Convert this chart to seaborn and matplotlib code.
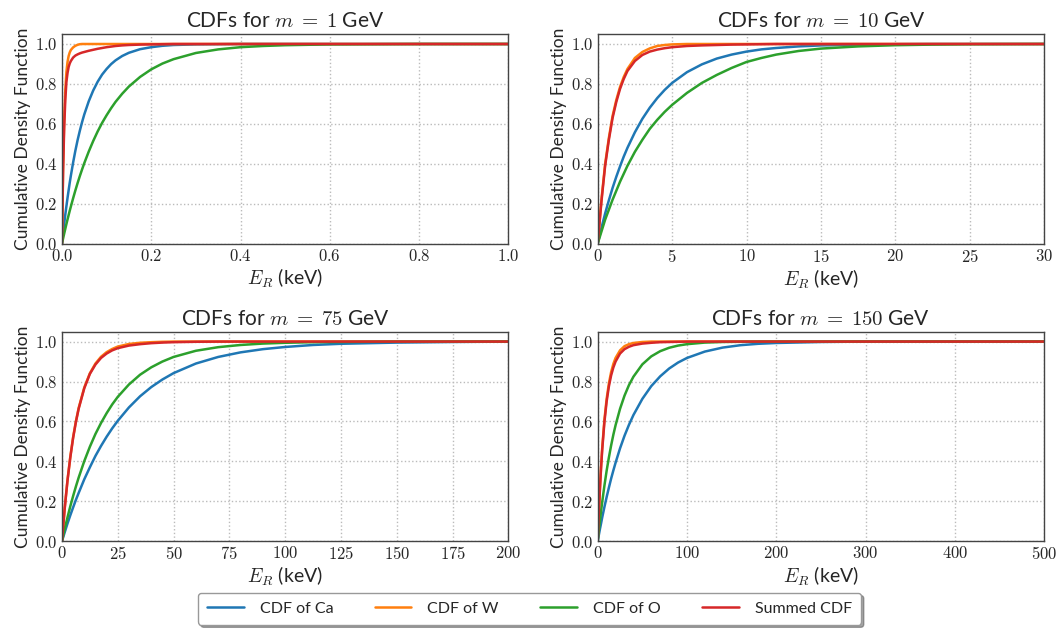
import numpy as np
import pandas as pd
import seaborn as sns
import matplotlib
matplotlib.use("Agg")
import matplotlib.pyplot as plt
from matplotlib.ticker import FuncFormatter

# ---------------- data ----------------
series_names = ["CDF of Ca", "CDF of W", "CDF of O", "Summed CDF"]
masses = ["1", "10", "75", "150"]

# m = 1 GeV
x_m1 = [0, 0.0025, 0.005, 0.0075, 0.01, 0.0125, 0.015, 0.0175, 0.02, 0.025, 0.03, 0.035,
        0.04, 0.045, 0.05, 0.06, 0.07, 0.08, 0.09, 0.1, 0.11, 0.12, 0.135, 0.15, 0.175,
        0.2, 0.225, 0.25, 0.3, 0.35, 0.4, 0.45, 0.5, 0.6, 0.7, 0.8, 1.0]
ca_m1 = [0, 0.051, 0.099, 0.145, 0.188, 0.229, 0.268, 0.306, 0.341, 0.406, 0.465, 0.518,
         0.565, 0.608, 0.647, 0.713, 0.767, 0.811, 0.847, 0.875, 0.899, 0.918, 0.940, 0.956,
         0.974, 0.984, 0.991, 0.995, 0.998, 0.999, 1.0, 1.0, 1.0, 1.0, 1.0, 1.0, 1.0]
w_m1 = [0, 0.38, 0.62, 0.77, 0.86, 0.91, 0.94, 0.958, 0.97, 0.983, 0.991, 0.996,
        0.999, 1.0, 1.0, 1.0, 1.0, 1.0, 1.0, 1.0, 1.0, 1.0, 1.0, 1.0, 1.0,
        1.0, 1.0, 1.0, 1.0, 1.0, 1.0, 1.0, 1.0, 1.0, 1.0, 1.0, 1.0]
o_m1 = [0, 0.025, 0.050, 0.074, 0.098, 0.121, 0.143, 0.165, 0.186, 0.227, 0.266, 0.303,
        0.338, 0.371, 0.403, 0.461, 0.514, 0.562, 0.605, 0.643, 0.678, 0.710, 0.751, 0.787,
        0.835, 0.873, 0.902, 0.924, 0.955, 0.973, 0.984, 0.990, 0.994, 0.998, 0.999, 1.0, 1.0]
sum_m1 = [0, 0.36, 0.58, 0.72, 0.81, 0.855, 0.885, 0.903, 0.915, 0.932, 0.942, 0.948,
          0.953, 0.957, 0.960, 0.966, 0.971, 0.976, 0.980, 0.984, 0.987, 0.990, 0.993, 0.995,
          0.997, 0.998, 0.999, 1.0, 1.0, 1.0, 1.0, 1.0, 1.0, 1.0, 1.0, 1.0, 1.0]

# m = 10 GeV
x_m10 = [0, 0.25, 0.5, 0.75, 1, 1.25, 1.5, 1.75, 2, 2.5, 3, 3.5, 4, 4.5, 5, 6, 7, 8, 9,
         10, 11, 12, 13.5, 15, 17.5, 20, 22.5, 25, 30]
ca_m10 = [0, 0.078, 0.151, 0.217, 0.279, 0.335, 0.387, 0.436, 0.480, 0.558, 0.625, 0.681,
          0.729, 0.770, 0.805, 0.859, 0.898, 0.927, 0.947, 0.962, 0.973, 0.980, 0.988,
          0.993, 0.997, 0.999, 1.0, 1.0, 1.0]
w_m10 = [0, 0.22, 0.40, 0.53, 0.64, 0.72, 0.785, 0.835, 0.875, 0.93, 0.96, 0.978,
         0.99, 0.995, 0.998, 1.0, 1.0, 1.0, 1.0, 1.0, 1.0, 1.0, 1.0, 1.0, 1.0, 1.0,
         1.0, 1.0, 1.0]
o_m10 = [0, 0.06, 0.12, 0.17, 0.22, 0.265, 0.31, 0.35, 0.39, 0.46, 0.52, 0.575, 0.62,
         0.66, 0.695, 0.755, 0.805, 0.845, 0.88, 0.91, 0.93, 0.947, 0.965, 0.977, 0.988,
         0.994, 0.997, 0.999, 1.0]
sum_m10 = [0, 0.21, 0.39, 0.52, 0.63, 0.71, 0.775, 0.825, 0.865, 0.915, 0.945, 0.962,
           0.972, 0.979, 0.984, 0.990, 0.993, 0.995, 0.997, 0.998, 0.999, 1.0, 1.0, 1.0,
           1.0, 1.0, 1.0, 1.0, 1.0]

# m = 75 GeV
x_m75 = [0, 1.25, 2.5, 3.75, 5, 6.25, 7.5, 10, 12.5, 15, 17.5, 20, 22.5, 25, 30, 35, 40,
         45, 50, 60, 70, 80, 90, 100, 112.5, 125, 150, 175, 200]
ca_m75 = [0, 0.045, 0.089, 0.13, 0.169, 0.207, 0.242, 0.31, 0.37, 0.427, 0.477, 0.523,
          0.565, 0.603, 0.67, 0.726, 0.772, 0.81, 0.842, 0.89, 0.923, 0.946, 0.962, 0.973,
          0.983, 0.989, 0.995, 0.998, 1.0]
w_m75 = [0, 0.168, 0.308, 0.424, 0.521, 0.601, 0.668, 0.770, 0.841, 0.890, 0.924, 0.947,
         0.963, 0.975, 0.988, 0.994, 0.997, 0.999, 1.0, 1.0, 1.0, 1.0, 1.0, 1.0, 1.0,
         1.0, 1.0, 1.0, 1.0]
o_m75 = [0, 0.062, 0.120, 0.175, 0.226, 0.274, 0.319, 0.401, 0.473, 0.537, 0.592, 0.641,
         0.685, 0.723, 0.785, 0.834, 0.871, 0.900, 0.923, 0.954, 0.972, 0.983, 0.990,
         0.994, 0.997, 0.998, 1.0, 1.0, 1.0]
sum_m75 = [0, 0.166, 0.305, 0.420, 0.517, 0.597, 0.664, 0.766, 0.838, 0.885, 0.918, 0.940,
           0.956, 0.967, 0.980, 0.987, 0.992, 0.995, 0.997, 0.999, 1.0, 1.0, 1.0, 1.0,
           1.0, 1.0, 1.0, 1.0, 1.0]

# m = 150 GeV
x_m150 = [0, 1.25, 2.5, 3.75, 5, 7.5, 10, 12.5, 15, 17.5, 20, 25, 30, 35, 40, 50, 60, 70,
          80, 90, 100, 120, 140, 160, 180, 200, 250, 300, 400, 500]
ca_m150 = [0, 0.031, 0.061, 0.089, 0.118, 0.171, 0.221, 0.268, 0.313, 0.354, 0.393, 0.465,
           0.528, 0.583, 0.632, 0.713, 0.777, 0.826, 0.865, 0.895, 0.918, 0.950, 0.970,
           0.982, 0.989, 0.993, 0.998, 1.0, 1.0, 1.0]
w_m150 = [0, 0.145, 0.268, 0.374, 0.465, 0.608, 0.713, 0.790, 0.847, 0.888, 0.918, 0.956,
          0.977, 0.987, 0.993, 0.998, 1.0, 1.0, 1.0, 1.0, 1.0, 1.0, 1.0, 1.0, 1.0, 1.0,
          1.0, 1.0, 1.0, 1.0]
o_m150 = [0, 0.053, 0.103, 0.150, 0.195, 0.278, 0.353, 0.419, 0.479, 0.533, 0.581, 0.663,
          0.729, 0.782, 0.824, 0.886, 0.926, 0.952, 0.969, 0.980, 0.987, 0.995, 0.998,
          0.999, 1.0, 1.0, 1.0, 1.0, 1.0, 1.0]
sum_m150 = [0, 0.14, 0.262, 0.366, 0.455, 0.596, 0.70, 0.775, 0.83, 0.87, 0.90, 0.94,
            0.962, 0.974, 0.982, 0.99, 0.994, 0.997, 0.998, 0.999, 1.0, 1.0, 1.0, 1.0,
            1.0, 1.0, 1.0, 1.0, 1.0, 1.0]

x_limits = [1.0, 30, 200, 500]
x_ticks = [
    [0.0, 0.2, 0.4, 0.6, 0.8, 1.0],
    [0, 5, 10, 15, 20, 25, 30],
    [0, 25, 50, 75, 100, 125, 150, 175, 200],
    [0, 100, 200, 300, 400, 500],
]
y_ticks = [0.0, 0.2, 0.4, 0.6, 0.8, 1.0]

panels = [
    (x_m1, [ca_m1, w_m1, o_m1, sum_m1]),
    (x_m10, [ca_m10, w_m10, o_m10, sum_m10]),
    (x_m75, [ca_m75, w_m75, o_m75, sum_m75]),
    (x_m150, [ca_m150, w_m150, o_m150, sum_m150]),
]

# ---------------- style ----------------
sns.set_theme(style="white")
plt.rcParams["font.family"] = ["Lato", "DejaVu Sans"]
plt.rcParams["mathtext.fontset"] = "cm"
plt.rcParams["xtick.direction"] = "in"
plt.rcParams["ytick.direction"] = "in"

palette = {"CDF of Ca": "#1f77b4", "CDF of W": "#ff7f0e",
           "CDF of O": "#2ca02c", "Summed CDF": "#d62728"}

fig, axes = plt.subplots(2, 2, figsize=(10.59, 6.30), dpi=100)
fig.subplots_adjust(left=0.0585, right=0.986, top=0.946, bottom=0.141,
                    wspace=0.2, hspace=0.42)

def xfmt(v, pos, dec):
    return r"$%s$" % (("%.1f" % v) if dec else ("%d" % round(v)))

for i, ax in enumerate(axes.flat):
    xs, ys = panels[i]
    rows = []
    for name, yv in zip(series_names, ys):
        for xv, y in zip(xs, yv):
            rows.append({"E": xv, "CDF": y, "series": name})
    df = pd.DataFrame(rows)
    sns.lineplot(data=df, x="E", y="CDF", hue="series", palette=palette,
                 hue_order=series_names, linewidth=1.8, ax=ax, legend=(i == 0),
                 estimator=None, sort=False)
    ax.set_xlim(0, x_limits[i])
    ax.set_ylim(0, 1.05)
    ax.set_xticks(x_ticks[i])
    ax.set_yticks(y_ticks)
    dec = (i == 0)
    ax.xaxis.set_major_formatter(FuncFormatter(lambda v, p, d=dec: xfmt(v, p, d)))
    ax.yaxis.set_major_formatter(FuncFormatter(lambda v, p: r"$%.1f$" % v))
    ax.tick_params(axis="both", which="both", direction="in",
                   labelsize=12, length=3, width=0.8, color="#333333", pad=3)
    ax.grid(True, linestyle=":", color="#bbbbbb", linewidth=1.0)
    for s in ax.spines.values():
        s.set_color("#444444")
        s.set_linewidth(1.0)
    ax.set_title(r"CDFs for $m\;=\;%s$ GeV" % masses[i], fontsize=15, pad=5)
    ax.set_xlabel(r"$E_R$ (keV)", fontsize=14, labelpad=2)
    ax.set_ylabel("Cumulative Density Function", fontsize=12.5, labelpad=3)

handles, labels = axes.flat[0].get_legend_handles_labels()
axes.flat[0].get_legend().remove()
leg = fig.legend(handles, labels, loc="lower center", bbox_to_anchor=(0.5, -0.004),
                 ncol=4, fontsize=11.5, frameon=True, fancybox=True, shadow=True,
                 handlelength=2.3, columnspacing=2.6, borderpad=0.55, handletextpad=1.0)
leg.get_frame().set_edgecolor("#999999")

fig.savefig("out.png", dpi=100)
